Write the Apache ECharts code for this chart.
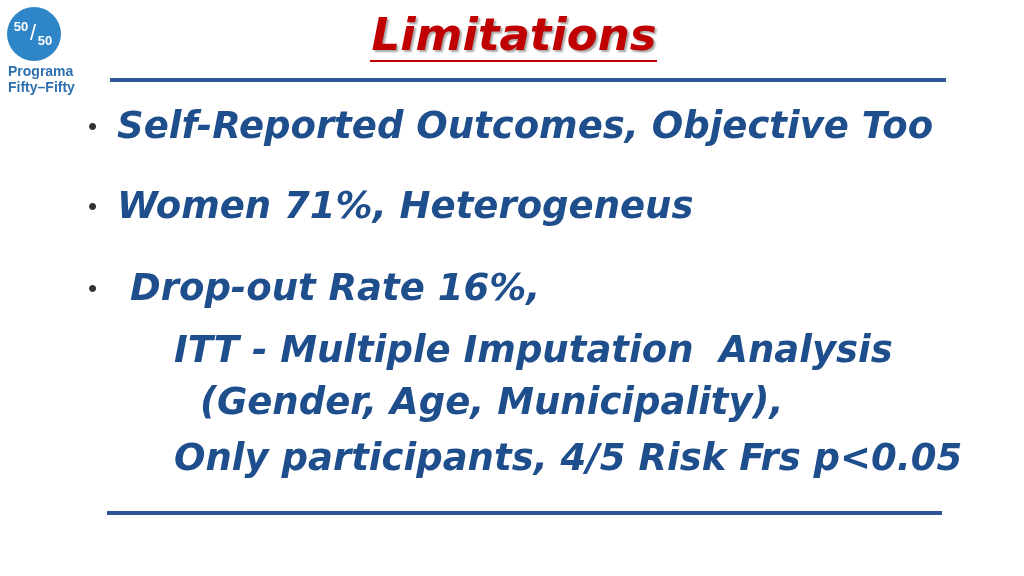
<!DOCTYPE html><html><head><meta charset="utf-8"><script src="https://cdn.jsdelivr.net/npm/echarts@6/dist/echarts.min.js"></script>
<style>html,body{margin:0;padding:0;background:#fff}#c{width:1024px;height:576px}</style></head><body><div id="c"></div><script>
const title = "Limitations";
const bulletLines = ["Self-Reported Outcomes, Objective Too", "Women 71%, Heterogeneus", "Drop-out Rate 16%,"];
const subLines = ["ITT - Multiple Imputation  Analysis", "(Gender, Age, Municipality),", "Only participants, 4/5 Risk Frs p<0.05"];
const logoLines = ["Programa", "Fifty\u2013Fifty"];
const blue = "#1F4E8C";
const F = "'Liberation Sans', Arial, sans-serif";
const D = "'DejaVu Sans', sans-serif";
const bulletPos = [[117,128],[117,208],[130,290]];
const subPos = [[174,352],[200,404],[174,460]];
const els = [];
els.push({type:'line',shape:{x1:110,y1:80,x2:946,y2:80},style:{stroke:'#2F5597',lineWidth:4}});
els.push({type:'line',shape:{x1:107,y1:513,x2:942,y2:513},style:{stroke:'#2F5597',lineWidth:4}});
els.push({type:'text',style:{text:title,x:514,y:38,align:'center',verticalAlign:'middle',font:"oblique bold 45px "+D,fill:'#C00000',textShadowColor:'rgba(0,0,0,0.35)',textShadowOffsetX:2,textShadowOffsetY:2,textShadowBlur:2}});
els.push({type:'line',shape:{x1:370,y1:61,x2:657,y2:61},style:{stroke:'#C00000',lineWidth:2}});
function txt(t,x,y){return {type:'text',x:x,y:y,style:{text:t,x:0,y:0,verticalAlign:'middle',font:"oblique bold 37px "+D,fill:blue,textShadowColor:'rgba(0,0,0,0.25)',textShadowOffsetX:1,textShadowOffsetY:1}};}
bulletLines.forEach((t,i)=>{
  els.push({type:'text',style:{text:'\u2022',x:88,y:bulletPos[i][1],verticalAlign:'middle',font:"26px "+F,fill:'#333'}});
  els.push(txt(t,bulletPos[i][0],bulletPos[i][1]));
});
subLines.forEach((t,i)=>els.push(txt(t,subPos[i][0],subPos[i][1])));
els.push({type:'circle',shape:{cx:34,cy:34,r:27},style:{fill:'#2E86C8'}});
els.push({type:'text',style:{text:'50',x:21,y:27,align:'center',verticalAlign:'middle',font:"bold 13px "+F,fill:'#fff'}});
els.push({type:'text',style:{text:'/',x:33,y:34,align:'center',verticalAlign:'middle',font:"22px "+F,fill:'#fff'}});
els.push({type:'text',style:{text:'50',x:45,y:41,align:'center',verticalAlign:'middle',font:"bold 13px "+F,fill:'#fff'}});
logoLines.forEach((t,i)=>els.push({type:'text',style:{text:t,x:8,y:72+i*16,verticalAlign:'middle',font:"bold 14px "+F,fill:'#2E6FB0'}}));
echarts.init(document.getElementById('c')).setOption({graphic:{elements:els}});
</script></body></html>
